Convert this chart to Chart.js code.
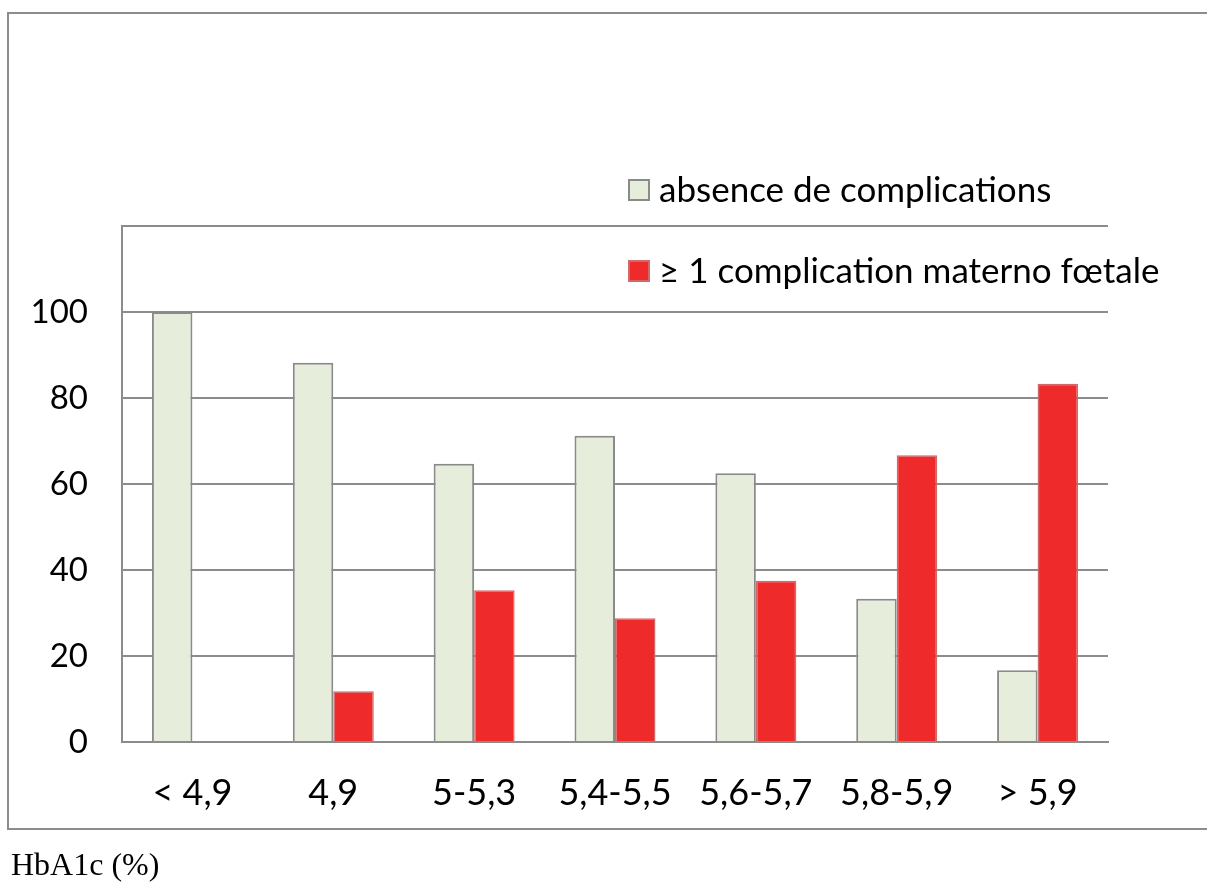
<!DOCTYPE html>
<html>
<head>
<meta charset="utf-8">
<script src="https://cdn.jsdelivr.net/npm/chart.js@4/dist/chart.umd.min.js"></script>
<style>
  html, body { margin: 0; padding: 0; background: #fff; }
  #wrap { position: relative; width: 1207px; height: 894px; overflow: hidden; }
  #box { position: absolute; left: 7px; top: 12px; width: 1250px; height: 818px; border: 2px solid #8c8c8c; box-sizing: border-box; }
  #cv { position: absolute; left: 0; top: 0; }
  #xtitle { position: absolute; left: 11px; top: 846px; font-family: "Liberation Serif", "Times New Roman", serif; font-size: 32px; color: #000; white-space: nowrap; }
</style>
</head>
<body>
<div id="wrap">
  <div id="box"></div>
  <canvas id="cv" width="1207" height="894"></canvas>
  <div id="xtitle">HbA1c (%)</div>
</div>
<script>
const categories = ["< 4,9", "4,9", "5-5,3", "5,4-5,5", "5,6-5,7", "5,8-5,9", "> 5,9"];
const seriesNames = ["absence de complications", "\u2265 1 complication materno f\u0153tale"];
const absenceValues = [100, 88.2, 64.7, 71.2, 62.5, 33.3, 16.7];
const complicationValues = [0, 11.8, 35.3, 28.8, 37.5, 66.7, 83.3];
const yTickValues = [0, 20, 40, 60, 80, 100];

const FONT = "Lato, 'Noto Sans', sans-serif";
const GRID = "#8c8c8c";

const legendPlugin = {
  id: "customLegend",
  afterDraw(chart) {
    const ctx = chart.ctx;
    const rows = [190, 271];
    ctx.save();
    chart.data.datasets.forEach((ds, i) => {
      const y = rows[i];
      ctx.fillStyle = ds.backgroundColor;
      ctx.fillRect(628, y - 11, 22, 22);
      ctx.strokeStyle = ds.borderColor;
      ctx.lineWidth = 2;
      ctx.strokeRect(629, y - 10, 20, 20);
      ctx.fillStyle = "#000";
      ctx.font = "35px " + FONT;
      ctx.textBaseline = "middle";
      ctx.textAlign = "left";
      ctx.fillText(ds.label, 659, y + 1);
    });
    ctx.restore();
  }
};

new Chart(document.getElementById("cv"), {
  type: "bar",
  data: {
    labels: categories,
    datasets: [
      {
        label: seriesNames[0],
        data: absenceValues,
        backgroundColor: "#e6eedb",
        borderColor: "#8a8a8a",
        borderWidth: 2,
        categoryPercentage: 0.575,
        barPercentage: 1.0
      },
      {
        label: seriesNames[1],
        data: complicationValues,
        backgroundColor: "#ee2a2a",
        borderColor: "#d26868",
        borderWidth: 1.5,
        categoryPercentage: 0.575,
        barPercentage: 1.0
      }
    ]
  },
  options: {
    responsive: false,
    animation: false,
    devicePixelRatio: 1,
    layout: { padding: { left: 0, right: 99, top: 226, bottom: 0 } },
    plugins: { legend: { display: false }, tooltip: { enabled: false } },
    scales: {
      x: {
        grid: { display: false, drawTicks: false },
        border: { display: true, color: GRID, width: 2 },
        ticks: { color: "#000", font: { family: FONT, size: 36 }, padding: 30, maxRotation: 0, autoSkip: false },
        afterFit(scale) { scale.height = 152; }
      },
      y: {
        min: 0,
        max: 120,
        grid: { color: GRID, lineWidth: 2, drawTicks: false },
        border: { display: true, color: GRID, width: 2 },
        ticks: {
          stepSize: 20,
          color: "#000",
          padding: 34,
          font: { family: FONT, size: 33 },
          callback: (v) => (yTickValues.includes(v) ? String(v) : "")
        },
        afterFit(scale) { scale.width = 122; }
      }
    }
  },
  plugins: [legendPlugin]
});
</script>
</body>
</html>
